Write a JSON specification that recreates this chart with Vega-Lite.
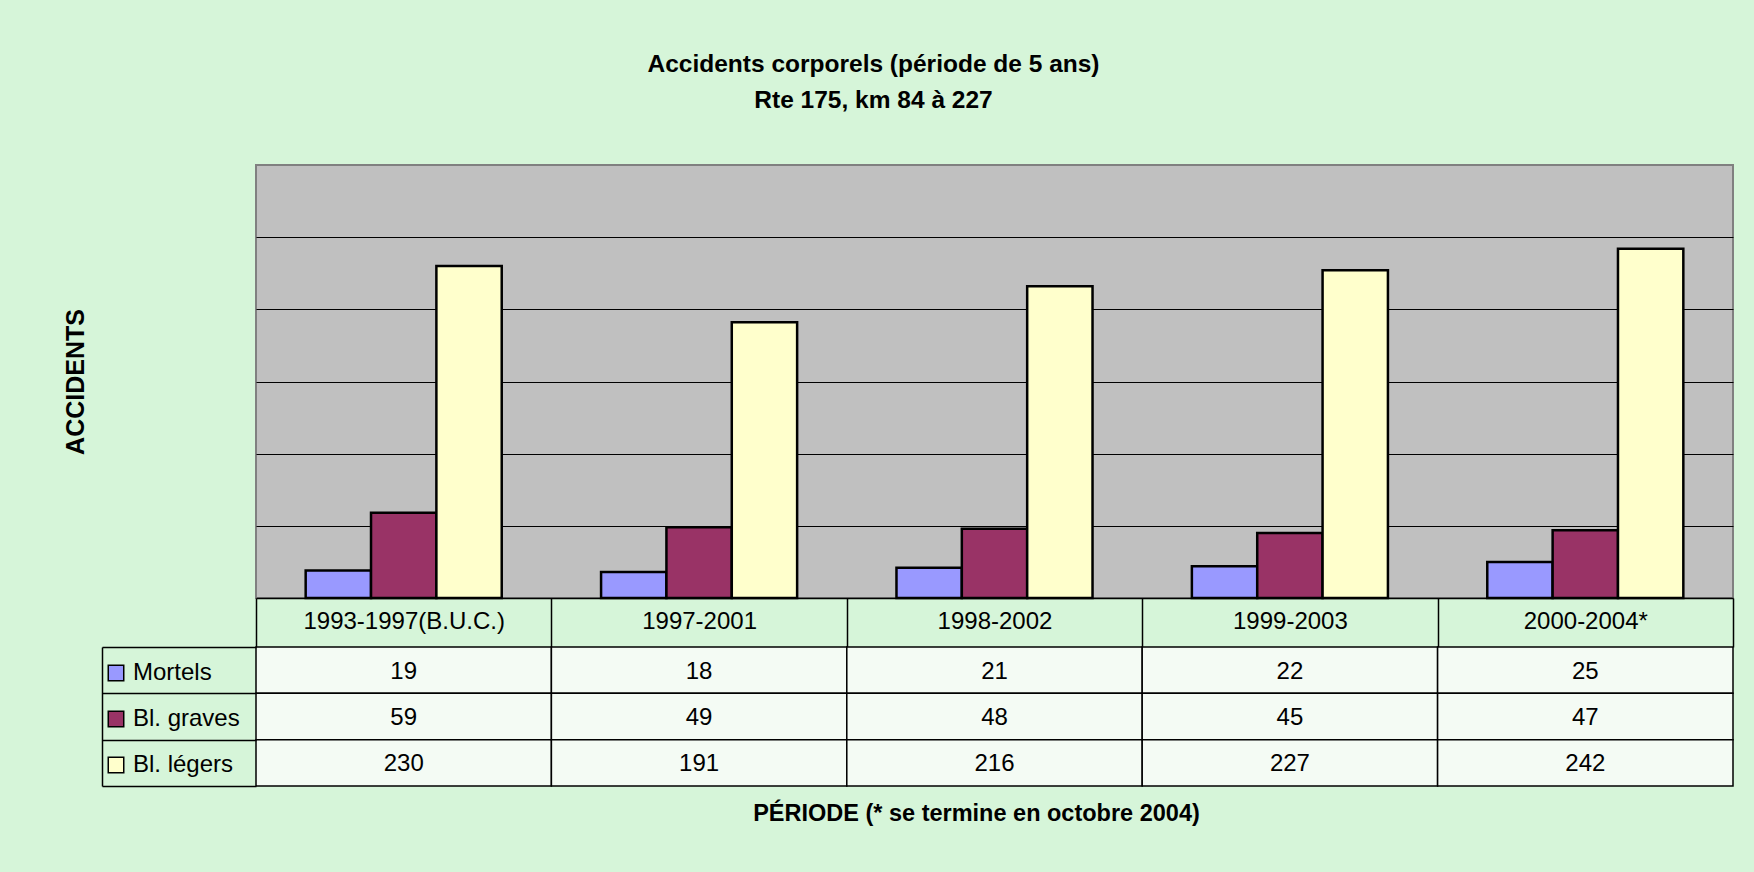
{
  "$schema": "https://vega.github.io/schema/vega-lite/v6.json",
  "background": "#d6f5d9",
  "padding": {"left": 62, "top": 51, "right": 40, "bottom": 60},
  "title": {
    "text": ["Accidents corporels (période de 5 ans)", "Rte 175, km 84 à 227"],
    "font": "Liberation Sans", "fontSize": 24.5, "fontWeight": "bold", "color": "black",
    "anchor": "middle", "lineHeight": 36.6, "offset": 50, "dx": -25
  },
  "datasets": {
    "accidents": [
      {"periode": "1993-1997(B.U.C.)", "serie": "Mortels", "valeur": 19},
      {"periode": "1993-1997(B.U.C.)", "serie": "Bl. graves", "valeur": 59},
      {"periode": "1993-1997(B.U.C.)", "serie": "Bl. légers", "valeur": 230},
      {"periode": "1997-2001", "serie": "Mortels", "valeur": 18},
      {"periode": "1997-2001", "serie": "Bl. graves", "valeur": 49},
      {"periode": "1997-2001", "serie": "Bl. légers", "valeur": 191},
      {"periode": "1998-2002", "serie": "Mortels", "valeur": 21},
      {"periode": "1998-2002", "serie": "Bl. graves", "valeur": 48},
      {"periode": "1998-2002", "serie": "Bl. légers", "valeur": 216},
      {"periode": "1999-2003", "serie": "Mortels", "valeur": 22},
      {"periode": "1999-2003", "serie": "Bl. graves", "valeur": 45},
      {"periode": "1999-2003", "serie": "Bl. légers", "valeur": 227},
      {"periode": "2000-2004*", "serie": "Mortels", "valeur": 25},
      {"periode": "2000-2004*", "serie": "Bl. graves", "valeur": 47},
      {"periode": "2000-2004*", "serie": "Bl. légers", "valeur": 242}
    ]
  },
  "data": {"name": "accidents"},
  "spacing": 49,
  "bounds": "flush",
  "vconcat": [
    {
      "width": 1477,
      "height": 433,
      "view": {"fill": "#c0c0c0", "stroke": "#808080", "strokeWidth": 2},
      "mark": {"type": "bar", "stroke": "black", "strokeWidth": 2.5},
      "encoding": {
        "x": {
          "field": "periode", "type": "nominal", "sort": null,
          "scale": {"paddingInner": 0, "paddingOuter": 0},
          "axis": {
            "title": null, "domain": true, "domainColor": "black", "domainWidth": 1.5,
            "ticks": true, "tickBand": "extent", "tickSize": 49, "tickColor": "black", "tickWidth": 1.5,
            "labelFontSize": 24, "labelColor": "black", "labelFont": "Liberation Sans", "labelAngle": 0,
            "labelBaseline": "alphabetic", "labelPadding": -19, "labelLimit": 0, "grid": false
          }
        },
        "xOffset": {
          "field": "serie", "type": "nominal", "sort": ["Mortels", "Bl. graves", "Bl. légers"],
          "scale": {"paddingInner": 0, "paddingOuter": 0.76}
        },
        "y": {
          "field": "valeur", "type": "quantitative",
          "scale": {"domain": [0, 300], "nice": false},
          "axis": {
            "title": "ACCIDENTS", "values": [50, 100, 150, 200, 250],
            "grid": true, "gridColor": "black", "gridWidth": 1, "gridOpacity": 1,
            "domain": false, "ticks": false, "labels": false,
            "titleFont": "Liberation Sans", "titleFontSize": 25, "titleFontWeight": "bold", "titleColor": "black",
            "titleAngle": 270, "titleBaseline": "alphabetic", "titleAlign": "center",
            "titleX": -172.7, "titleY": 216.5
          }
        },
        "color": {
          "field": "serie", "type": "nominal",
          "scale": {"domain": ["Mortels", "Bl. graves", "Bl. légers"], "range": ["#9999ff", "#993366", "#ffffcc"]},
          "legend": {
            "title": null, "orient": "none", "legendX": -152, "legendY": 496, "direction": "vertical",
            "symbolType": "square", "symbolSize": 240, "symbolStrokeColor": "black", "symbolStrokeWidth": 1.5,
            "symbolOpacity": 1, "labelFontSize": 24, "labelFont": "Liberation Sans", "labelColor": "black",
            "labelOffset": 5, "rowPadding": 22, "padding": 0, "labelLimit": 0
          }
        }
      }
    },
    {
      "width": 1477,
      "height": 139,
      "view": {"stroke": null},
      "encoding": {
        "x": {
          "field": "periode", "type": "nominal", "sort": null,
          "scale": {"paddingInner": 0, "paddingOuter": 0},
          "axis": {
            "title": "PÉRIODE (* se termine en octobre 2004)",
            "labels": false, "ticks": false, "domain": false, "grid": false,
            "titleFont": "Liberation Sans", "titleFontSize": 23.5, "titleFontWeight": "bold", "titleColor": "black",
            "titleBaseline": "alphabetic", "titleAlign": "center", "titleX": 720, "titleY": 34
          }
        },
        "y": {
          "field": "serie", "type": "nominal", "sort": ["Mortels", "Bl. graves", "Bl. légers"],
          "scale": {"paddingInner": 0, "paddingOuter": 0},
          "axis": {
            "title": null, "labels": false, "grid": false,
            "domain": true, "domainColor": "black", "domainWidth": 1.5,
            "ticks": true, "tickBand": "extent", "tickSize": -154, "tickColor": "black", "tickWidth": 1.5,
            "offset": 154
          }
        }
      },
      "layer": [
        {"mark": {"type": "rect", "fill": "#f4fbf4", "stroke": "black", "strokeWidth": 1.5}},
        {
          "mark": {"type": "text", "fontSize": 24, "font": "Liberation Sans", "color": "black", "dy": 1.5},
          "encoding": {"text": {"field": "valeur", "type": "quantitative"}}
        }
      ]
    }
  ],
  "config": {"font": "Liberation Sans"}
}
